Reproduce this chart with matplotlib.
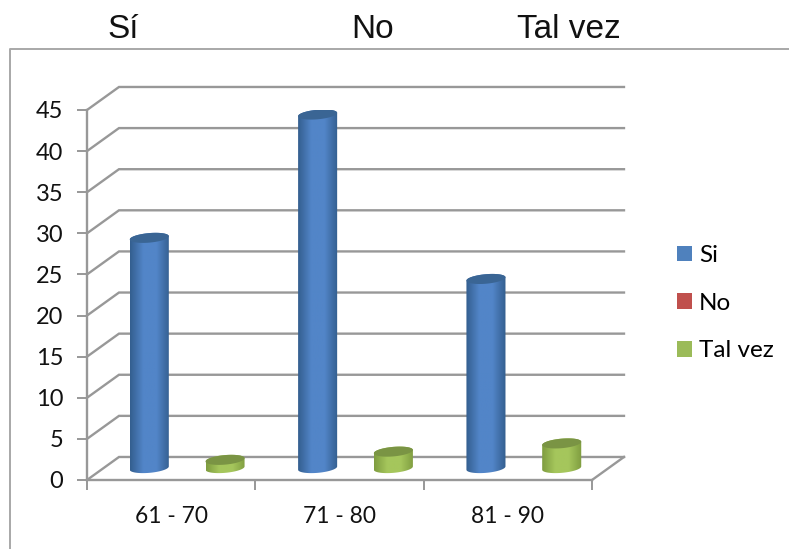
import numpy as np
import matplotlib
matplotlib.use("Agg")
import matplotlib.pyplot as plt
from matplotlib.lines import Line2D
from matplotlib.patches import Polygon, Rectangle
from matplotlib.colors import LinearSegmentedColormap

categories = ["61 - 70", "71 - 80", "81 - 90"]
si = [28, 43, 23]
no = [0, 0, 0]
tal_vez = [1, 2, 3]
y_ticks = list(range(0, 50, 5))
series_names = ["Si", "No", "Tal vez"]
header_labels = ["Sí", "No", "Tal vez"]

GRID = "#989898"
DEPTH_X = 0.19
DEPTH_Y = 2.8
BASE_Y = 1.45
BAR_W = 0.232

fig = plt.figure(figsize=(7.89, 5.49), dpi=100)
ax = fig.add_axes([87 / 789, 69 / 549, 505 / 789, 370 / 549])


# cilindro con degradado
def cylinder(cx, value, dark, light, top):
    a = BAR_W / 2
    b = 0.58
    tilt = 0.2
    t = np.linspace(0, 2 * np.pi, 80)
    ex = cx + a * np.cos(t)
    ey = b * np.sin(t) + tilt * np.cos(t)
    y0 = BASE_Y
    y1 = BASE_Y + value
    low = t >= np.pi
    up = t <= np.pi
    body_x = np.r_[ex[low], ex[up]]
    body_y = np.r_[ey[low] + y0, ey[up] + y1]
    body = Polygon(np.c_[body_x, body_y], closed=True, fc="none", ec="none", zorder=4)
    ax.add_patch(body)
    cmap = LinearSegmentedColormap.from_list("c", [dark, light, light, dark])
    im = ax.imshow(np.linspace(0, 1, 64).reshape(1, -1), cmap=cmap, aspect="auto",
                   extent=[cx - a, cx + a, y0 - 1, y1 + 1], zorder=4)
    im.set_clip_path(body)
    ax.add_patch(Polygon(np.c_[ex, ey + y1], closed=True, fc=top, ec="none", zorder=5))


# paredes y rejilla
for v in y_ticks:
    ax.plot([0, DEPTH_X, 3 + DEPTH_X], [v, v + DEPTH_Y, v + DEPTH_Y],
            color=GRID, lw=1.7, clip_on=False, zorder=1, solid_joinstyle="miter")
ax.plot([3, 3 + DEPTH_X], [0, DEPTH_Y], color=GRID, lw=1.7, clip_on=False, zorder=1)

for i in range(len(categories)):
    cylinder(i + 0.37, si[i], "#345f90", "#5285c8", "#3a6594")
    cylinder(i + 0.82, tal_vez[i], "#7f9d40", "#a5c65c", "#7a9444")

ax.set_xlim(0, 3)
ax.set_ylim(0, 45)
ax.patch.set_visible(False)
for s in ["top", "right"]:
    ax.spines[s].set_visible(False)
for s in ["left", "bottom"]:
    ax.spines[s].set_color(GRID)
    ax.spines[s].set_linewidth(1.7)
ax.set_yticks(y_ticks)
ax.set_xticks(range(4))
ax.set_xticklabels([])
ax.set_xticks([i + 0.5 for i in range(3)], minor=True)
ax.set_xticklabels(categories, minor=True, family="Lato", fontsize=16.4, color="#111111")
ax.tick_params(axis="x", which="minor", length=0, pad=19)
ax.tick_params(axis="x", which="major", length=7, width=1.4, color=GRID)
ax.tick_params(axis="y", length=7, width=1.4, color=GRID, pad=10, labelsize=17, labelcolor="#111111")
for lab in ax.get_yticklabels():
    lab.set_family("Lato")
    lab.set_y(lab.get_position()[1])

# leyenda
handles = [Rectangle((0, 0), 1, 1, fc=c) for c in ["#4f81bd", "#c0504d", "#9bbb59"]]
fig.legend(handles, series_names, loc="upper left", bbox_to_anchor=(677 / 789, 1 - 245 / 549), frameon=False,
           prop={"family": "Lato", "size": 17.5}, handlelength=0.62, handleheight=0.62,
           handletextpad=0.28, labelspacing=1.1, borderpad=0, borderaxespad=0)

# marco exterior
fig.add_artist(Line2D([10 / 789, 10 / 789, 1], [0, 500 / 549, 500 / 549], color="#a8a8a8", lw=1.4))

# encabezado
for x, lab in zip([123, 373, 569], header_labels):
    fig.text(x / 789, 1 - 29 / 549, lab, family="Liberation Sans", fontsize=24,
             ha="center", va="center", color="#111111")

fig.savefig("out.png", dpi=100)
